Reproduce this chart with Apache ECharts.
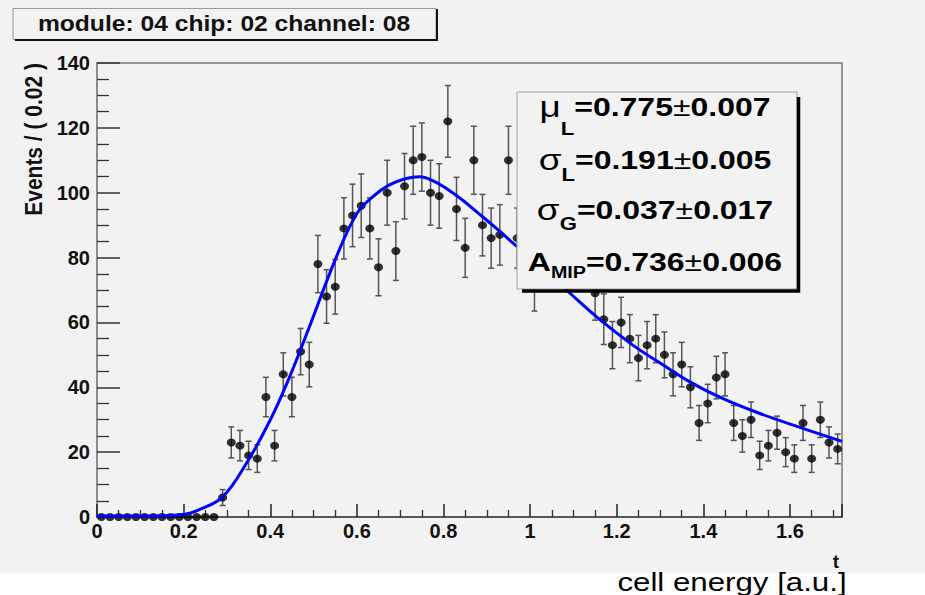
<!DOCTYPE html>
<html>
<head>
<meta charset="utf-8">
<title>module: 04 chip: 02 channel: 08</title>
<script src="https://cdn.jsdelivr.net/npm/echarts@6/dist/echarts.min.js"></script>
<style>
  html, body { margin: 0; padding: 0; background: #fff; }
  #chart { width: 925px; height: 595px; }
</style>
</head>
<body>
<div id="chart"></div>
<script>
// histogram: events per bin of 0.02 in cell energy
const binWidth = 0.02;
const counts = [
  0, 0, 0, 0, 0, 0, 0, 0, 0, 0, 0, 0, 0, 0,              // 0.01 - 0.27
  6, 23, 22, 19, 18, 37, 22, 44, 37, 51, 47, 78, 68, 71,   // 0.29 - 0.55
  89, 93, 96, 89, 77, 100, 82, 102, 110, 111, 100, 99, 122, 95, // 0.57 - 0.83
  83, 110, 90, 86, 87, 110, 86, 90, 72, 84, 88, 81, 85, 80,     // 0.85 - 1.11
  82, 69, 61, 53, 60, 55, 49, 53, 55, 50, 44, 47, 40, 29,       // 1.13 - 1.39
  35, 43, 44, 29, 25, 30, 19, 22, 26, 20, 18, 29, 18, 30,       // 1.41 - 1.67
  23, 21                                                       // 1.69 - 1.71
];

// Landau (x) Gauss fit
const fitX = [0, 0.1, 0.2, 0.24, 0.29, 0.345, 0.4, 0.445, 0.49, 0.552, 0.6, 0.637, 0.675, 0.714,
  0.745, 0.775, 0.81, 0.845, 0.883, 0.922, 0.96, 1.03, 1.092, 1.157, 1.237, 1.3, 1.375, 1.452,
  1.529, 1.606, 1.72];
const fitY = [0.3, 0.3, 0.8, 2.5, 6.2, 16.6, 29.9, 43.3, 58.5, 80, 93.6, 98.8, 102.4, 104.4,
  104.9, 103.7, 101, 97.6, 93.4, 89, 84.5, 76.5, 69, 61.3, 53, 47.5, 41.2, 36.1,
  32, 28.4, 23.3];

const title = 'module: 04 chip: 02 channel: 08';
const xTitle = 't';
const yTitle = 'Events / ( 0.02 )';
const bottomText = 'cell energy [a.u.]';
const fitParams = [
  { sym: 'μ', sub: 'L', val: '0.775', err: '0.007' },
  { sym: 'σ', sub: 'L', val: '0.191', err: '0.005' },
  { sym: 'σ', sub: 'G', val: '0.037', err: '0.017' },
  { sym: 'A', sub: 'MIP', val: '0.736', err: '0.006' }
];

const FONT = "'Liberation Sans', Arial, Helvetica, sans-serif";
const BG = '#f2f2f2';

const points = counts.map((c, i) => [(i + 0.5) * binWidth, c]);
const errData = counts.map((c, i) => [(i + 0.5) * binWidth, c, Math.sqrt(c)]);
const fitData = fitX.map((x, i) => [x, fitY[i]]);

const chartDom = document.getElementById('chart');
const myChart = echarts.init(chartDom, null, { renderer: 'svg' });

// stat box text lines
const statY = [107, 160, 210, 262];
const subPad = [44, 30, 27, 22];
const statText = fitParams.map((p, i) => ({
  type: 'text',
  x: 655,
  y: statY[i],
  scaleX: 1.23,
  z: 102,
  silent: true,
  style: {
    x: 0, y: 0,
    align: 'center',
    verticalAlign: 'middle',
    text: (p.sym === 'A' ? '{m|A}' : '{g|' + p.sym + '}') +
      '{s|' + p.sub + '}{m|=' + p.val + '}{pm|±}{m|' + p.err + '}',
    rich: {
      m: { fontSize: 26, fontWeight: 'bold', fontFamily: FONT, fill: '#000' },
      g: { fontSize: 30, fontWeight: 'normal', fontFamily: FONT, fill: '#000' },
      pm: { fontSize: 26, fontWeight: 'normal', fontFamily: FONT, fill: '#000' },
      s: {
        fontSize: p.sub === 'MIP' ? 16 : 18, fontWeight: 'bold', fontFamily: FONT, fill: '#000',
        padding: [subPad[i], 0, 0, 0]
      }
    }
  }
}));

const option = {
  animation: false,
  backgroundColor: BG,
  grid: {
    left: 97, right: 83, top: 63, bottom: 78,
    show: true,
    backgroundColor: BG,
    borderColor: '#7a7a7a',
    borderWidth: 1.5,
    outerBoundsMode: 'none'
  },
  xAxis: {
    type: 'value',
    min: 0,
    max: 1.72,
    interval: 0.2,
    axisLine: { show: true, onZero: false, lineStyle: { color: '#444', width: 1.5 } },
    axisTick: { show: true, inside: true, length: 13, lineStyle: { color: '#222', width: 1.5 } },
    minorTick: { show: true, splitNumber: 4, length: 7, lineStyle: { color: '#333', width: 1.3 } },
    splitLine: { show: false },
    axisLabel: {
      fontSize: 20, fontWeight: 'bold', fontFamily: FONT, color: '#111',
      margin: 4, showMaxLabel: false
    }
  },
  yAxis: {
    type: 'value',
    min: 0,
    max: 140,
    interval: 20,
    axisLine: { show: true, onZero: false, lineStyle: { color: '#888', width: 1.5 } },
    axisTick: { show: true, inside: true, length: 23, lineStyle: { color: '#333', width: 1.5 } },
    minorTick: { show: true, splitNumber: 4, length: 12, lineStyle: { color: '#333', width: 1.3 } },
    splitLine: { show: false },
    axisLabel: { fontSize: 20, fontWeight: 'bold', fontFamily: FONT, color: '#111', margin: 7 }
  },
  series: [
    {
      // Poisson error bars
      type: 'custom',
      z: 2,
      encode: { x: 0, y: 1 },
      data: errData,
      renderItem: (params, api) => {
        const x = api.value(0);
        const y = api.value(1);
        const e = api.value(2);
        if (!e) return null;
        const top = api.coord([x, y + e]);
        const bot = api.coord([x, y - e]);
        const hw = 3;
        const st = { stroke: '#555', lineWidth: 1.5 };
        return {
          type: 'group',
          children: [
            { type: 'line', shape: { x1: top[0], y1: top[1], x2: bot[0], y2: bot[1] }, style: st },
            { type: 'line', shape: { x1: top[0] - hw, y1: top[1], x2: top[0] + hw, y2: top[1] }, style: st },
            { type: 'line', shape: { x1: bot[0] - hw, y1: bot[1], x2: bot[0] + hw, y2: bot[1] }, style: st }
          ]
        };
      }
    },
    {
      type: 'scatter',
      z: 3,
      symbol: 'circle',
      symbolSize: [9, 8],
      itemStyle: { color: '#000' },
      data: points
    },
    {
      type: 'line',
      z: 4,
      data: fitData,
      smooth: 0.4,
      showSymbol: false,
      lineStyle: { color: '#0000ff', width: 3 }
    }
  ],
  graphic: [
    // white strip at the bottom
    { type: 'rect', z: 0, silent: true, shape: { x: 0, y: 573, width: 925, height: 22 }, style: { fill: '#fff' } },
    // title box
    { type: 'rect', z: 100, silent: true, shape: { x: 13, y: 8.5, width: 423, height: 31 },
      style: { fill: BG, stroke: '#9a9a9a', lineWidth: 1 } },
    { type: 'polyline', z: 101, silent: true, shape: { points: [[15, 40], [437, 40], [437, 9]] },
      style: { stroke: '#111', lineWidth: 2, fill: null } },
    { type: 'text', z: 102, silent: true, x: 224, y: 23, scaleX: 1.12,
      style: { x: 0, y: 0, text: title, align: 'center', verticalAlign: 'middle',
        fontSize: 22, fontWeight: 'bold', fontFamily: FONT, fill: '#111' } },
    // stat box
    { type: 'rect', z: 100, silent: true, shape: { x: 517, y: 92, width: 280, height: 197 },
      style: { fill: BG, stroke: '#a0a0a0', lineWidth: 1 } },
    { type: 'polyline', z: 101, silent: true, shape: { points: [[522, 291], [798.5, 291], [798.5, 97]] },
      style: { stroke: '#000', lineWidth: 3.5, fill: null } },
    ...statText,
    // axis titles
    { type: 'text', z: 102, silent: true, x: 34, y: 63, rotation: Math.PI / 2, scaleY: 1.15,
      style: { x: 0, y: 0, text: yTitle, align: 'right', verticalAlign: 'middle',
        fontSize: 21, fontWeight: 'bold', fontFamily: FONT, fill: '#111' } },
    { type: 'text', z: 102, silent: true, x: 836, y: 561,
      style: { x: 0, y: 0, text: xTitle, align: 'center', verticalAlign: 'middle',
        fontSize: 19, fontWeight: 'bold', fontFamily: FONT, fill: '#111' } },
    { type: 'text', z: 102, silent: true, x: 732, y: 582, scaleX: 1.25,
      style: { x: 0, y: 0, text: bottomText, align: 'center', verticalAlign: 'middle',
        fontSize: 25, fontFamily: FONT, fill: '#000' } }
  ]
};

myChart.setOption(option);
</script>
</body>
</html>
